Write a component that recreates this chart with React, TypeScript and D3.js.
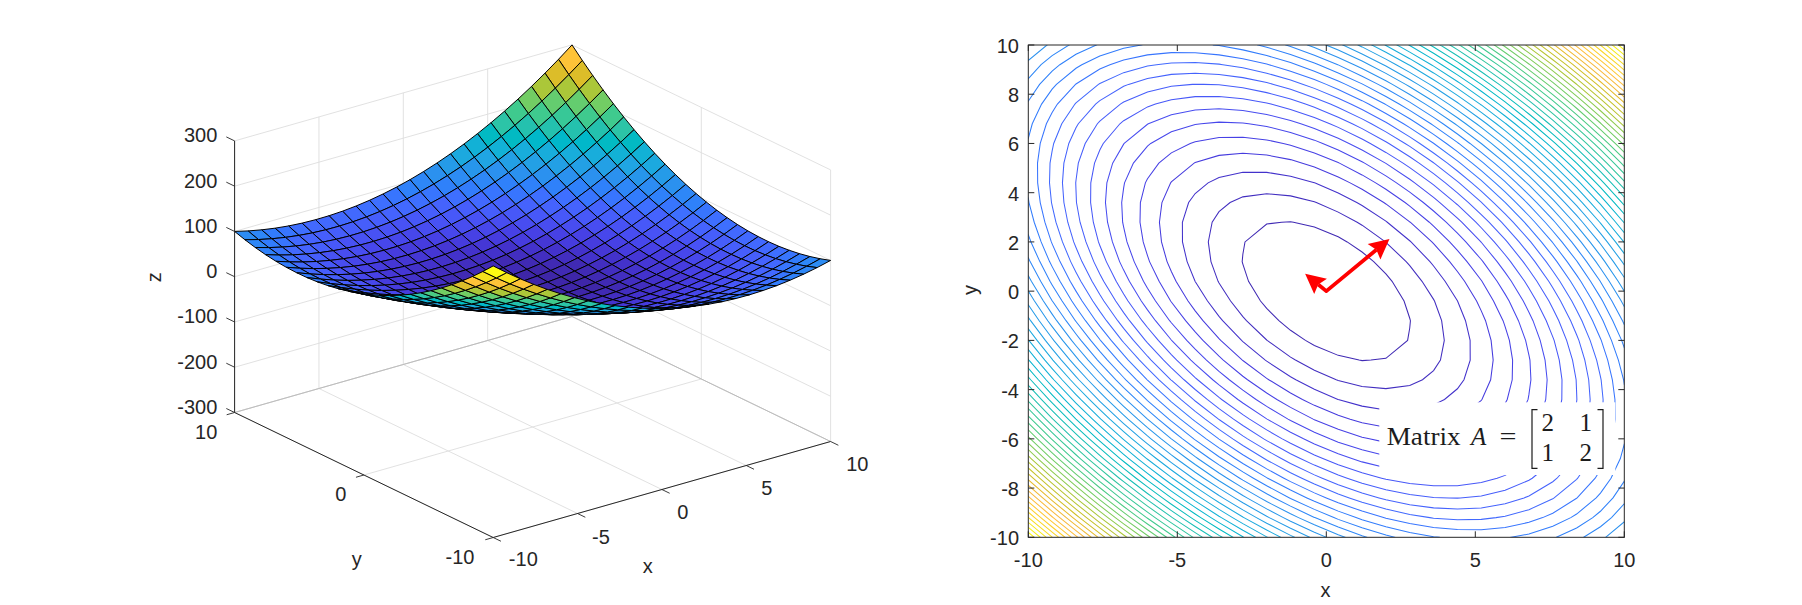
import React from "react";
import * as d3 from "d3";

// Grid coordinates (26 samples, step 0.8)
const gridX = [-10,-9.2,-8.4,-7.6,-6.8,-6,-5.2,-4.4,-3.6,-2.8,-2,-1.2,-0.4,0.4,1.2,2,2.8,3.6,4.4,5.2,6,6.8,7.6,8.4,9.2,10];
const gridY = [-10,-9.2,-8.4,-7.6,-6.8,-6,-5.2,-4.4,-3.6,-2.8,-2,-1.2,-0.4,0.4,1.2,2,2.8,3.6,4.4,5.2,6,6.8,7.6,8.4,9.2,10];
// Surface heights in units of zUnit. Rows y = -10..-0.4, columns x = -10..10.
const zUnit = 0.16;
const heightsLower = [
  [1875,1729,1591,1461,1339,1225,1119,1021,931,849,775,709,651,601,559,525,499,481,471,469,475,489,511,541,579,625],
  [1729,1587,1453,1327,1209,1099,997,903,817,739,669,607,553,507,469,439,417,403,397,399,409,427,453,487,529,579],
  [1591,1453,1323,1201,1087,981,883,793,711,637,571,513,463,421,387,361,343,333,331,337,351,373,403,441,487,541],
  [1461,1327,1201,1083,973,871,777,691,613,543,481,427,381,343,313,291,277,271,273,283,301,327,361,403,453,511],
  [1339,1209,1087,973,867,769,679,597,523,457,399,349,307,273,247,229,219,217,223,237,259,289,327,373,427,489],
  [1225,1099,981,871,769,675,589,511,441,379,325,279,241,211,189,175,169,171,181,199,225,259,301,351,409,475],
  [1119,997,883,777,679,589,507,433,367,309,259,217,183,157,139,129,127,133,147,169,199,237,283,337,399,469],
  [1021,903,793,691,597,511,433,363,301,247,201,163,133,111,97,91,93,103,121,147,181,223,273,331,397,471],
  [931,817,711,613,523,441,367,301,243,193,151,117,91,73,63,61,67,81,103,133,171,217,271,333,403,481],
  [849,739,637,543,457,379,309,247,193,147,109,79,57,43,37,39,49,67,93,127,169,219,277,343,417,499],
  [775,669,571,481,399,325,259,201,151,109,75,49,31,21,19,25,39,61,91,129,175,229,291,361,439,525],
  [709,607,513,427,349,279,217,163,117,79,49,27,13,7,9,19,37,63,97,139,189,247,313,387,469,559],
  [651,553,463,381,307,241,183,133,91,57,31,13,3,1,7,21,43,73,111,157,211,273,343,421,507,601],
];
// Rows y = 0.4..10 are the point reflection of the rows above
const heightsUpper = heightsLower.map((r) => [...r].reverse()).reverse();
const surfaceZ = [...heightsLower, ...heightsUpper].map((r) => r.map((v) => v * zUnit));
const contourCount = 50;
const surfXTicks = [-10,-5,0,5,10];
const surfYTicks = [-10,0,10];
const surfZTicks = [-300,-200,-100,0,100,200,300];
const planXTicks = [-10,-5,0,5,10];
const planYTicks = [-10,-8,-6,-4,-2,0,2,4,6,8,10];
const eigenTips = [[2.12,2.12],[-0.71,0.71]];
const matrixRows = [["2","1"],["1","2"]];
const parula = [
"#3e26a8","#402ab4","#422ec0","#4332cb","#4537d5","#463cde","#4741e5","#4747eb","#484df0","#4852f4","#4758f8",
"#465efb","#4563fd","#4269fe","#3e6fff","#3875fe","#327cfc","#2f81fa","#2e87f7","#2d8cf3","#2b91ef","#2796eb",
"#259be8","#23a0e5","#20a5e3","#1ca9df","#18addb","#12b1d6","#08b5d0","#01b8ca","#02bac3","#0bbdbd","#19bfb6",
"#24c1ae","#2cc4a7","#31c69f","#37c897","#3fca8e","#4acb84","#57cc7a","#64cd6f","#72cd64","#81cc59","#8fcb4e",
"#9dc943","#abc739","#b9c431","#c5c22a","#d1bf27","#dcbd29","#e6bb2d","#f0ba36","#f8ba3d","#febe3c","#fec338",
"#fec833","#fccf2d","#fad626","#f7dc20","#f5e31d","#f5e91b","#f6ef15","#f9f50c","#fdfd12"
];

const FONT = "'Liberation Sans', Arial, sans-serif";
const INK = "#262626";
const GRID = "#dedede";
const FS = 20;

const zMin = d3.min(surfaceZ.flat()) as number;
const zMax = d3.max(surfaceZ.flat()) as number;
const color = d3.scaleQuantize<string>().domain([zMin, zMax]).range(parula);

// Left panel projection
const ox = 532.6, oy = 291.2;
const xToH = d3.scaleLinear([-10, 10], [-168.7, 168.7]);
const xToV = d3.scaleLinear([-10, 10], [48, -48]);
const yToH = d3.scaleLinear([-10, 10], [129.3, -129.3]);
const yToV = d3.scaleLinear([-10, 10], [62.5, -62.5]);
const zToV = d3.scaleLinear([-300, 300], [135.8, -135.8]);
const proj = (x: number, y: number, z: number): [number, number] => [
  ox + xToH(x) + yToH(y),
  oy + xToV(x) + yToV(y) + zToV(z),
];
const pts = (list: number[][]) => list.map((p) => p.join(",")).join(" ");
const depth = (x: number, y: number, z: number) => -0.02827 * x - 0.0368 * y + 0.000425 * z;

type Seg = [number, number, number];
function Line3({ a, b, stroke, w = 0.9 }: { a: Seg; b: Seg; stroke: string; w?: number }) {
  const p = proj(a[0], a[1], a[2]);
  const q = proj(b[0], b[1], b[2]);
  return <line x1={p[0]} y1={p[1]} x2={q[0]} y2={q[1]} stroke={stroke} strokeWidth={w} />;
}

function Txt({ x, y, children, anchor = "middle", rotate }: any) {
  return (
    <text
      x={x}
      y={y}
      textAnchor={anchor}
      fontFamily={FONT}
      fontSize={FS}
      fill={INK}
      transform={rotate ? `rotate(${rotate} ${x} ${y})` : undefined}
    >
      {children}
    </text>
  );
}

function Surface() {
  const faces: { d: number; c: string; p: string; k: string }[] = [];
  for (let j = 0; j < gridY.length - 1; j++) {
    for (let i = 0; i < gridX.length - 1; i++) {
      const q: [number, number, number][] = [
        [gridX[i], gridY[j], surfaceZ[j][i]],
        [gridX[i + 1], gridY[j], surfaceZ[j][i + 1]],
        [gridX[i + 1], gridY[j + 1], surfaceZ[j + 1][i + 1]],
        [gridX[i], gridY[j + 1], surfaceZ[j + 1][i]],
      ];
      faces.push({
        d: d3.mean(q, (v) => depth(v[0], v[1], v[2])) as number,
        c: color(surfaceZ[j][i]),
        p: pts(q.map((v) => proj(v[0], v[1], v[2]))),
        k: `${i}-${j}`,
      });
    }
  }
  faces.sort((a, b) => a.d - b.d);

  const zLabelX = 217.3;
  const xLabelPos: Record<number, [number, number]> = {
    [-10]: [523.3, 566], [-5]: [601, 543.7], [0]: [682.7, 518.7], [5]: [766.7, 495.3], [10]: [857.3, 471],
  };
  const yLabelPos: Record<number, [number, number, string]> = {
    [10]: [217.3, 439.3, "end"], [0]: [340.7, 500.7, "middle"], [-10]: [460, 564.3, "middle"],
  };
  return (
    <g>
      {/* back walls and floor */}
      {surfZTicks.map((t) => (
        <g key={t}>
          <Line3 a={[-10, 10, t]} b={[10, 10, t]} stroke={GRID} />
          <Line3 a={[10, 10, t]} b={[10, -10, t]} stroke={GRID} />
        </g>
      ))}
      {surfXTicks.map((t) => (
        <g key={t}>
          <Line3 a={[t, 10, -300]} b={[t, 10, 300]} stroke={GRID} />
          <Line3 a={[t, -10, -300]} b={[t, 10, -300]} stroke={GRID} />
        </g>
      ))}
      {surfYTicks.map((t) => (
        <g key={t}>
          <Line3 a={[10, t, -300]} b={[10, t, 300]} stroke={GRID} />
          <Line3 a={[-10, t, -300]} b={[10, t, -300]} stroke={GRID} />
        </g>
      ))}
      <Line3 a={[-10, 10, -300]} b={[10, 10, -300]} stroke="#b8b8b8" />
      <Line3 a={[10, 10, -300]} b={[10, -10, -300]} stroke="#b8b8b8" />

      {/* surface */}
      {faces.map((f) => (
        <polygon key={f.k} points={f.p} fill={f.c} stroke="#000" strokeWidth={1} strokeLinejoin="round" />
      ))}

      {/* axes */}
      <Line3 a={[-10, 10, -300]} b={[-10, 10, 300]} stroke={INK} w={1} />
      <Line3 a={[-10, 10, -300]} b={[-10, -10, -300]} stroke={INK} w={1} />
      <Line3 a={[-10, -10, -300]} b={[10, -10, -300]} stroke={INK} w={1} />
      {surfZTicks.map((t) => (
        <g key={t}>
          <Line3 a={[-10, 10, t]} b={[-10, 10.64, t]} stroke={INK} w={0.9} />
          <Txt x={zLabelX} y={proj(-10, 10, t)[1] + 1.5} anchor="end">{t}</Txt>
        </g>
      ))}
      {surfYTicks.map((t) => (
        <g key={t}>
          <Line3 a={[-10, t, -300]} b={[-10.47, t, -300]} stroke={INK} w={0.9} />
          <Txt x={yLabelPos[t][0]} y={yLabelPos[t][1]} anchor={yLabelPos[t][2]}>{t}</Txt>
        </g>
      ))}
      {surfXTicks.map((t) => (
        <g key={t}>
          <Line3 a={[t, -10, -300]} b={[t, -10.6, -300]} stroke={INK} w={0.9} />
          <Txt x={xLabelPos[t][0]} y={xLabelPos[t][1]}>{t}</Txt>
        </g>
      ))}
      <Txt x={647.7} y={572.5}>x</Txt>
      <Txt x={356.7} y={566}>y</Txt>
      <Txt x={161} y={277.3} rotate={-90}>z</Txt>
    </g>
  );
}

function Plan() {
  const L = 1028.3, R = 1624.3, T = 45, B = 537.3;
  const sx = d3.scaleLinear([-10, 10], [L, R]);
  const sy = d3.scaleLinear([-10, 10], [B, T]);
  const levels = d3.range(1, contourCount + 1).map((k) => zMin + (k * (zMax - zMin)) / (contourCount + 1));
  const gen = d3.contours().size([gridX.length, gridY.length]).thresholds(levels);
  const shapes = gen(surfaceZ.flat());
  const cellX = d3.scaleLinear([0.5, gridX.length - 0.5], [gridX[0], gridX[gridX.length - 1]]);
  const cellY = d3.scaleLinear([0.5, gridY.length - 0.5], [gridY[0], gridY[gridY.length - 1]]);
  const line = d3
    .line<number[]>()
    .x((p) => sx(cellX(p[0])))
    .y((p) => sy(cellY(p[1])));
  const o = [sx(0), sy(0)];
  const heads = eigenTips.map(([ex, ey]) => {
    const tip = [sx(ex), sy(ey)];
    const dx = tip[0] - o[0], dy = tip[1] - o[1];
    const n = Math.hypot(dx, dy);
    const ux = dx / n, uy = dy / n;
    const b = [tip[0] - ux * 20, tip[1] - uy * 20];
    const s = [tip[0] - ux * 17, tip[1] - uy * 17];
    return {
      tip,
      neck: s,
      poly: pts([
        [tip[0], tip[1]],
        [b[0] - uy * 10, b[1] + ux * 10],
        [s[0], s[1]],
        [b[0] + uy * 10, b[1] - ux * 10],
      ]),
    };
  });
  const serif = "'Liberation Serif', 'DejaVu Serif', serif";
  return (
    <g>
      <defs>
        <clipPath id="plan-clip"><rect x={L} y={T} width={R - L} height={B - T} /></clipPath>
      </defs>
      <g clipPath="url(#plan-clip)" fill="none">
        {shapes.map((s) => (
          <g key={s.value}>
            {s.coordinates.flatMap((poly, i) =>
              poly.map((ring, k) => (
                <path key={`${i}-${k}`} d={(line(ring as number[][]) as string) + "Z"} stroke={color(s.value)} strokeWidth={1.05} />
              ))
            )}
          </g>
        ))}
      </g>
      <rect x={1379.3} y={402.3} width={236} height={72.7} fill="#fff" />
      {/* axes box */}
      <rect x={L} y={T} width={R - L} height={B - T} fill="none" stroke={INK} strokeWidth={1} />
      {planXTicks.map((t) => (
        <g key={t}>
          <line x1={sx(t)} x2={sx(t)} y1={B} y2={B - 6} stroke={INK} />
          <line x1={sx(t)} x2={sx(t)} y1={T} y2={T + 6} stroke={INK} />
          <Txt x={sx(t)} y={566.5}>{t}</Txt>
        </g>
      ))}
      {planYTicks.map((t) => (
        <g key={t}>
          <line x1={L} x2={L + 6} y1={sy(t)} y2={sy(t)} stroke={INK} />
          <line x1={R} x2={R - 6} y1={sy(t)} y2={sy(t)} stroke={INK} />
          <Txt x={1019} y={sy(t) + 8} anchor="end">{t}</Txt>
        </g>
      ))}
      <Txt x={1325.5} y={596.5}>x</Txt>
      <Txt x={977} y={290} rotate={-90}>y</Txt>

      {/* eigenvector arrows */}
      <path
        d={`M${heads[0].neck[0]},${heads[0].neck[1]}L${o[0]},${o[1]}L${heads[1].neck[0]},${heads[1].neck[1]}`}
        fill="none"
        stroke="#f00"
        strokeWidth={3.8}
        strokeLinejoin="round"
      />
      {heads.map((h, i) => (
        <polygon key={i} points={h.poly} fill="#f00" />
      ))}

      {/* annotation */}
      <g fontFamily={serif} fontSize={25} fill="#1c1c1c">
        <text x={1386.7} y={445} textLength={74} lengthAdjust="spacingAndGlyphs">Matrix</text>
        <text x={1471} y={445} fontStyle="italic">A</text>
        <text x={1499.5} y={445} textLength={17} lengthAdjust="spacingAndGlyphs">=</text>
        {matrixRows.map((row, r) =>
          row.map((v, c) => (
            <text key={`${r}-${c}`} x={c === 0 ? 1547.7 : 1585.7} y={431 + r * 30} textAnchor="middle">{v}</text>
          ))
        )}
      </g>
      <g fill="none" stroke="#1c1c1c" strokeWidth={1.2}>
        <path d="M1537.5,409.6H1532V468.4H1537.5" />
        <path d="M1597.5,409.6H1603V468.4H1597.5" />
      </g>
    </g>
  );
}

export default function App() {
  return (
    <svg
      width={1802}
      height={605}
      viewBox="0 0 1802 605"
      style={{ position: "absolute", left: 0, top: 0, display: "block", background: "#fff" }}
    >
      <Surface />
      <Plan />
    </svg>
  );
}
